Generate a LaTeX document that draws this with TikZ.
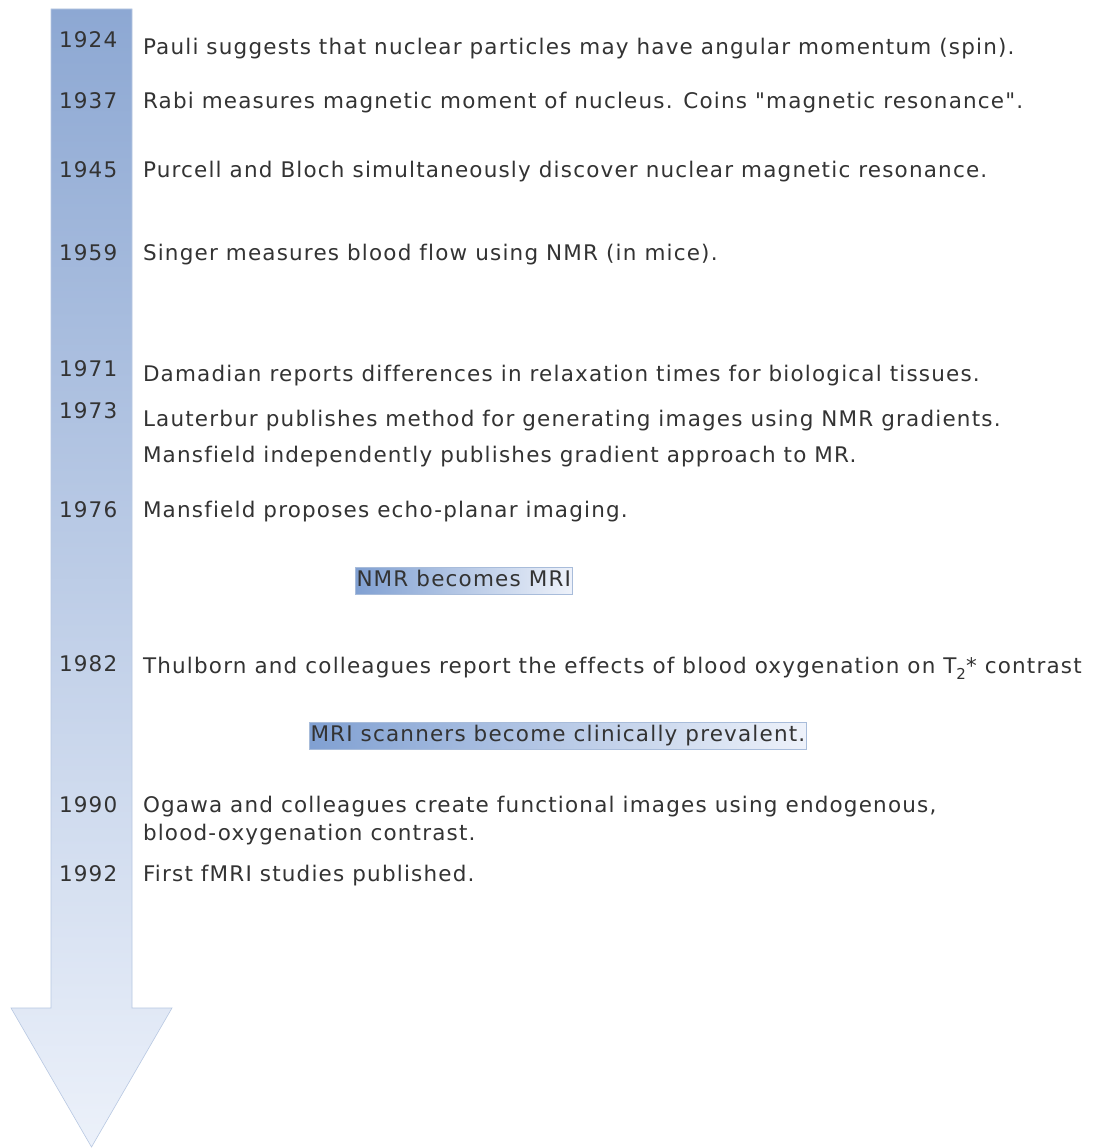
\documentclass[tikz,border=0pt]{standalone}
\usepackage{fontspec}
\newfontfamily\vfont{DejaVu Sans}[Ligatures={ResetAll,NoCommon},LetterSpace=5.5]
\definecolor{txt}{HTML}{333333}
\definecolor{arrtop}{RGB}{141,168,211}
\definecolor{arrbot}{RGB}{236,241,250}
\definecolor{arredge}{RGB}{184,200,226}
\definecolor{boxl}{RGB}{128,160,210}
\definecolor{boxr}{RGB}{238,242,250}
\definecolor{boxedge}{RGB}{168,188,218}
\begin{document}
\begin{tikzpicture}[x=1pt,y=-1pt,
  every node/.style={inner sep=0pt,outer sep=0pt,text=txt,font=\vfont\fontsize{21.5}{28}\selectfont},
  yearlbl/.style={anchor=base west},
  evtlbl/.style={anchor=base west},
  hibox/.style={draw=boxedge,line width=0.6pt,left color=boxl,right color=boxr,inner xsep=1.5pt,text height=16pt,text depth=5pt,inner ysep=3pt,anchor=base west}]
\useasboundingbox (0,0) rectangle (1097,1148);
\fill[white] (0,0) rectangle (1097,1148);
\shade[top color=arrtop,bottom color=arrbot,draw=arredge,line width=0.6pt]
  (51,9) -- (132,9) -- (132,1008) -- (172,1008) -- (91.5,1147) -- (11,1008) -- (51,1008) -- cycle;
% years
\node[yearlbl] (y1924) at (59,47.5) {1924};
\node[yearlbl] (y1937) at (59,108.5) {1937};
\node[yearlbl] (y1945) at (59,177.5) {1945};
\node[yearlbl] (y1959) at (59,260) {1959};
\node[yearlbl] (y1971) at (59,376) {1971};
\node[yearlbl] (y1973) at (59,418) {1973};
\node[yearlbl] (y1976) at (59,517) {1976};
\node[yearlbl] (y1982) at (59,671) {1982};
\node[yearlbl] (y1990) at (59,812.5) {1990};
\node[yearlbl] (y1992) at (59,881) {1992};
% events
\node[evtlbl] (e1924) at (143,54.5) {Pauli suggests that nuclear particles may have angular momentum (spin).};
\node[evtlbl] (e1937) at (143,108.5) {Rabi measures magnetic moment of nucleus. Coins "magnetic resonance".};
\node[evtlbl] (e1945) at (143,177.5) {Purcell and Bloch simultaneously discover nuclear magnetic resonance.};
\node[evtlbl] (e1959) at (143,260) {Singer measures blood flow using NMR (in mice).};
\node[evtlbl] (e1971) at (143,381) {Damadian reports differences in relaxation times for biological tissues.};
\node[evtlbl] (e1973a) at (143,426) {Lauterbur publishes method for generating images using NMR gradients.};
\node[evtlbl] (e1973b) at (143,462) {Mansfield independently publishes gradient approach to MR.};
\node[evtlbl] (e1976) at (143,517) {Mansfield proposes echo-planar imaging.};
\node[evtlbl] (e1982) at (143,673) {Thulborn and colleagues report the effects of blood oxygenation on T\raisebox{-0.3em}{\fontsize{15}{15}\selectfont 2}* contrast};
\node[evtlbl] (e1990a) at (143,812.5) {Ogawa and colleagues create functional images using endogenous,};
\node[evtlbl] (e1990b) at (143,840.5) {blood-oxygenation contrast.};
\node[evtlbl] (e1992) at (143,881) {First fMRI studies published.};
% highlighted
\node[hibox] (nmrmri) at (355,586) {NMR becomes MRI};
\node[hibox] (clin) at (309,741) {MRI scanners become clinically prevalent.};
\end{tikzpicture}
\end{document}
